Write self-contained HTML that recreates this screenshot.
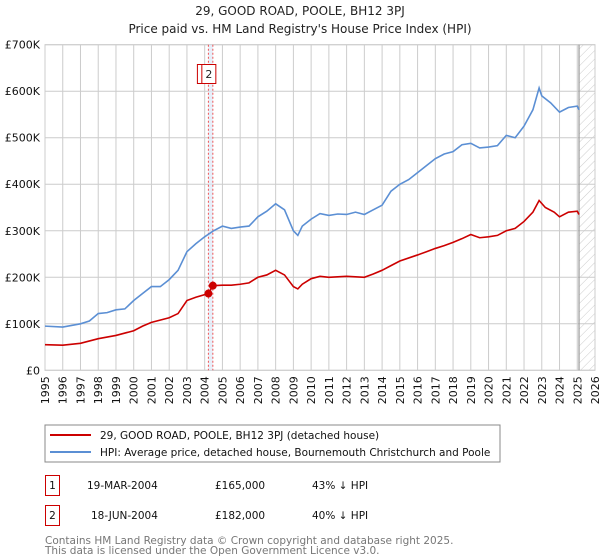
<!DOCTYPE html>
<html><head><meta charset="utf-8"><style>
body{margin:0;background:#fff;width:600px;height:560px;overflow:hidden;font-family:"DejaVu Sans","Liberation Sans",sans-serif}
svg{display:block}
</style></head><body>
<svg id="chart" width="600" height="560" font-family="DejaVu Sans, Liberation Sans, sans-serif">
<defs><pattern id="hatch" width="6" height="6" patternUnits="userSpaceOnUse" patternTransform="rotate(45)"><line x1="0" y1="0" x2="0" y2="6" stroke="#ccc" stroke-width="1"/></pattern></defs>
<text x="300" y="15" text-anchor="middle" font-size="12" fill="#222">29, GOOD ROAD, POOLE, BH12 3PJ</text>
<text x="300" y="33" text-anchor="middle" font-size="12" fill="#222">Price paid vs. HM Land Registry's House Price Index (HPI)</text>
<g id="grid"></g><g id="marks"></g><g id="lines"></g>
<rect x="45" y="425" width="455" height="37" fill="#fff" stroke="#888"/>
<line x1="50" y1="435" x2="91" y2="435" stroke="#cc0000" stroke-width="2"/>
<text x="100" y="439" font-size="10.5" fill="#111">29, GOOD ROAD, POOLE, BH12 3PJ (detached house)</text>
<line x1="50" y1="452" x2="91" y2="452" stroke="#5b8fd4" stroke-width="2"/>
<text x="100" y="456" font-size="10.5" fill="#111">HPI: Average price, detached house, Bournemouth Christchurch and Poole</text>
<g font-size="10.5" fill="#111">
<rect x="45.5" y="475.5" width="14" height="20" fill="none" stroke="#cc0000"/>
<text x="52.5" y="489" text-anchor="middle">1</text>
<text x="87" y="489">19-MAR-2004</text>
<text x="215" y="489">£165,000</text>
<text x="312" y="489">43% ↓ HPI</text>
<rect x="45.5" y="505.5" width="14" height="20" fill="none" stroke="#cc0000"/>
<text x="52.5" y="519" text-anchor="middle">2</text>
<text x="91" y="519">18-JUN-2004</text>
<text x="215" y="519">£182,000</text>
<text x="312" y="519">40% ↓ HPI</text>
</g>
<text x="45" y="544" font-size="10.5" fill="#777">Contains HM Land Registry data © Crown copyright and database right 2025.</text>
<text x="45" y="554" font-size="10.5" fill="#777">This data is licensed under the Open Government Licence v3.0.</text>
</svg>
<script>
const yearTicks=[1995,1996,1997,1998,1999,2000,2001,2002,2003,2004,2005,2006,2007,2008,2009,2010,2011,2012,2013,2014,2015,2016,2017,2018,2019,2020,2021,2022,2023,2024,2025,2026];
const priceTicks=[0,100000,200000,300000,400000,500000,600000,700000];
const priceTickLabels=["£0","£100K","£200K","£300K","£400K","£500K","£600K","£700K"];
const hpiYears=[1995,1996,1997,1997.5,1998,1998.5,1999,1999.5,2000,2000.5,2001,2001.5,2002,2002.5,2003,2003.5,2004,2004.5,2005,2005.5,2006,2006.5,2007,2007.5,2008,2008.5,2009,2009.25,2009.5,2010,2010.5,2011,2011.5,2012,2012.5,2013,2013.5,2014,2014.5,2015,2015.5,2016,2016.5,2017,2017.5,2018,2018.5,2019,2019.5,2020,2020.5,2021,2021.5,2022,2022.5,2022.85,2023,2023.5,2024,2024.5,2025,2025.1];
const hpiValues=[95,93,100,106,122,124,130,132,150,165,180,180,195,215,255,272,287,300,310,305,308,310,330,342,358,345,300,290,310,325,337,333,336,335,340,335,345,355,385,400,410,425,440,455,465,470,485,488,478,480,483,505,500,525,560,607,590,575,555,565,568,560];
const propYears=[1995,1996,1997,1998,1999,2000,2000.5,2001,2002,2002.5,2003,2003.5,2004.21,2004.46,2005,2005.5,2006,2006.5,2007,2007.5,2008,2008.5,2009,2009.25,2009.5,2010,2010.5,2011,2012,2013,2013.5,2014,2014.5,2015,2016,2016.5,2017,2017.5,2018,2018.5,2019,2019.5,2020,2020.5,2021,2021.5,2022,2022.5,2022.85,2023.2,2023.7,2024,2024.5,2025,2025.1];
const propValues=[55,54,58,68,75,85,95,103,113,122,150,157,165,182,183,183,185,188,200,205,215,205,180,175,185,197,202,200,202,200,207,215,225,235,248,255,262,268,275,283,292,285,287,290,300,305,320,340,365,350,340,330,340,342,335];
const saleYears=[2004.21,2004.46];
const salePrices=[165000,182000];
const saleLabels=["1","2"];
const dataEndYear=2025.1;

const X0=45,X1=595,Y0=370.3,Y1=44.7;
const x=y=>X0+(y-1995)/(2026-1995)*(X1-X0);
const yv=v=>Y0-v/700000*(Y0-Y1);
const NS="http://www.w3.org/2000/svg";
function mk(tag,attrs,parent){const e=document.createElementNS(NS,tag);for(const k in attrs)e.setAttribute(k,attrs[k]);parent.appendChild(e);return e;}
const grid=document.getElementById('grid'),marks=document.getElementById('marks'),lines=document.getElementById('lines');
mk('rect',{x:X0,y:Y1,width:X1-X0,height:Y0-Y1,fill:'#fff',stroke:'#ccc'},grid);
yearTicks.forEach(t=>{
 const l=mk('line',{x1:x(t),x2:x(t),y1:Y1,y2:Y0,stroke:'#ccc'},grid);
 
 
 const tx=mk('text',{x:0,y:0,'font-size':11,fill:'#111','text-anchor':'end',transform:`translate(${x(t)+4},${Y0+6}) rotate(-90)`},grid);
 tx.textContent=t;
 
 
});
priceTicks.forEach((t,i)=>{
 const l=mk('line',{x1:X0,x2:X1,y1:yv(t),y2:yv(t),stroke:'#ccc'},grid);
 
 
 const tx=mk('text',{x:X0-5,y:yv(t)+4,'font-size':11,fill:'#111','text-anchor':'end'},grid);
 tx.textContent=priceTickLabels[i];
 
 
});
const h=mk('rect',{x:x(dataEndYear),y:Y1,width:X1-x(dataEndYear),height:Y0-Y1,fill:'url(#hatch)'},marks);


const hl=mk('line',{x1:x(dataEndYear),x2:x(dataEndYear),y1:Y1,y2:Y0,stroke:'#999','stroke-width':1.2},marks);


const band=mk('rect',{x:x(saleYears[0]),y:Y1,width:x(saleYears[1])-x(saleYears[0]),height:Y0-Y1,fill:'#dde8f8',opacity:0.7},marks);


saleYears.forEach((s,i)=>{
 const l=mk('line',{x1:x(s),x2:x(s),y1:Y1,y2:Y0,stroke:'#e55','stroke-dasharray':'2,2'},marks);
 
 
});
saleYears.forEach((s,i)=>{
 const bx=x(s)-11;
 const r=mk('rect',{x:bx,y:64.5,width:14,height:19,fill:'#fff',stroke:'#cc0000'},marks);
 
 
 const t=mk('text',{x:bx+7,y:78,'font-size':11,'text-anchor':'middle',fill:'#222'},marks);
 t.textContent=saleLabels[i];
 
 
});
const hp=mk('polyline',{points:hpiYears.map((yr,i)=>x(yr)+','+yv(hpiValues[i]*1000)).join(' '),fill:'none',stroke:'#5b8fd4','stroke-width':1.6},lines);


const pp=mk('polyline',{points:propYears.map((yr,i)=>x(yr)+','+yv(propValues[i]*1000)).join(' '),fill:'none',stroke:'#cc0000','stroke-width':1.6},lines);


saleYears.forEach((s,i)=>{
 const c=mk('circle',{cx:x(s),cy:yv(salePrices[i]),r:4,fill:'#cc0000'},lines);
 
 
});
</script>
</body></html>
